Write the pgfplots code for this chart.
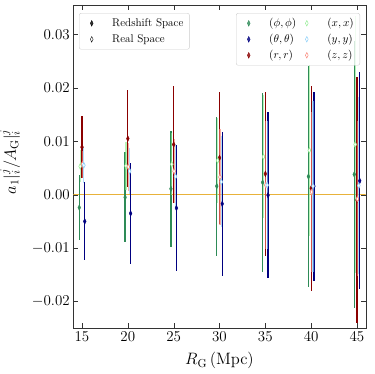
\RequirePackage{fix-cm}
\documentclass[border=0pt]{standalone}
\usepackage{pgfplots}
\usepackage{pgfplotstable}
\pgfplotsset{compat=1.18}

\definecolor{phiC}{HTML}{2E8B57}
\definecolor{thC}{HTML}{000080}
\definecolor{rC}{HTML}{8B0000}
\definecolor{xC}{HTML}{90EE90}
\definecolor{yC}{HTML}{87CEFA}
\definecolor{zC}{HTML}{FA8072}
\definecolor{zeroC}{HTML}{E8B23A}

% redshift space: R value error
\pgfplotstableread{
R v e
15 -0.0024 0.0060
20 -0.0005 0.0084
25 0.0011 0.0108
30 0.0016 0.0130
35 0.0023 0.0167
40 0.0034 0.0207
45 0.0038 0.0250
}\phiRS
\pgfplotstableread{
R v e
15 -0.0050 0.0073
20 -0.0035 0.0094
25 -0.0025 0.0118
30 -0.0017 0.0135
35 -0.0001 0.0155
40 0.0016 0.0177
45 0.0026 0.0203
}\thRS
\pgfplotstableread{
R v e
15 0.0089 0.0058
20 0.0105 0.0090
25 0.0094 0.0110
30 0.0069 0.0124
35 0.0039 0.0153
40 0.0012 0.0192
45 -0.0010 0.0231
}\rRS
% real space
\pgfplotstableread{
R v e
15 0.0053 0.0030
20 0.0054 0.0045
25 0.0057 0.0058
30 0.0064 0.0080
35 0.0071 0.0115
40 0.0083 0.0160
45 0.0094 0.0240
}\xRE
\pgfplotstableread{
R v e
15 0.0055 0.0034
20 0.0044 0.0043
25 0.0034 0.0060
30 0.0024 0.0085
35 0.0018 0.0120
40 0.0016 0.0160
45 0.0017 0.0165
}\yRE
\pgfplotstableread{
R v e
15 0.0057 0.0025
20 0.0052 0.0045
25 0.0044 0.0060
30 0.0033 0.0090
35 0.0018 0.0120
40 0.0005 0.0150
45 -0.0008 0.0145
}\zRE

\newcommand{\legfont}{\fontsize{11.2}{13}\selectfont}

\tikzset{
    mylegend/.style={
        draw=black!20, rounded corners=2pt, fill=white,
        fill opacity=0.8, text opacity=1,
        inner xsep=4pt, inner ysep=2pt,
    },
}
\pgfplotsset{
    rs/.style={only marks, mark=diamond*, mark size=2.8pt,
        mark options={xscale=0.65, solid},
        error bars/y dir=both, error bars/y explicit, error bars/error mark=none,
        error bars/error bar style={line width=1.2pt}},
    re/.style={only marks, mark=diamond*, mark size=2.8pt,
        mark options={xscale=0.65, solid, fill=white, line width=0.6pt},
        error bars/y dir=both, error bars/y explicit, error bars/error mark=none,
        error bars/error bar style={line width=1.2pt, opacity=0.65}},
    legmark/.style={only marks, mark=diamond*, mark size=2.8pt,
        legend image code/.code={%
            \path[draw=none, fill=none] (0cm,-8pt) (0.95cm,8pt);
            \draw[##1] plot coordinates {(0.3cm,0cm)};}},
    common/.style={
        scale only axis, width=292.4pt, height=323.3pt,
        xmin=14.05, xmax=45.95, ymin=-0.025, ymax=0.0355,
    },
}

\begin{document}
\begin{tikzpicture}
\begin{axis}[
    common,
    xtick={15,20,25,30,35,40,45},
    ytick={-0.02,-0.01,0,0.01,0.02,0.03},
    scaled y ticks=false,
    yticklabel style={/pgf/number format/.cd, fixed, fixed zerofill, precision=2},
    tick label style={font=\fontsize{15}{17}\selectfont},
    label style={font=\fontsize{16.5}{20}\selectfont},
    xlabel={$R_{\rm G}\,({\rm Mpc})$},
    ylabel={$a_1|_i^j/A_{\rm G}|_i^j$},
    xlabel style={yshift=-4pt},
    ylabel style={at={(ticklabel cs:0.515)}},
    ylabel shift=5pt,
    major tick length=5pt,
    axis line style={black!80}, tick style={black!80},
    legend columns=2,
    legend cell align=left,
    legend style={mylegend, at={(0.9805,0.975)}, anchor=north east},
]
\addplot[color=zeroC, line width=1.3pt, forget plot] coordinates {(14.05,0) (45.95,0)};

\addplot[rs, color=phiC, forget plot] table[x expr=\thisrow{R}-0.3, y=v, y error=e] {\phiRS};
\addplot[rs, color=rC, forget plot] table[x expr=\thisrow{R}, y=v, y error=e] {\rRS};
\addplot[rs, color=thC, forget plot] table[x expr=\thisrow{R}+0.3, y=v, y error=e] {\thRS};
\addplot[re, color=xC, forget plot] table[x expr=\thisrow{R}-0.2, y=v, y error=e] {\xRE};
\addplot[re, color=zC, forget plot] table[x expr=\thisrow{R}+0.05, y=v, y error=e] {\zRE};
\addplot[re, color=yC, forget plot] table[x expr=\thisrow{R}+0.2, y=v, y error=e] {\yRE};

\addlegendimage{legmark, mark options={xscale=0.65}, color=phiC}
\addlegendentry{\legfont$(\phi,\phi)$\hspace{22pt}}
\addlegendimage{legmark, mark options={xscale=0.65, fill=white}, color=xC}
\addlegendentry{\legfont$(x,x)$}
\addlegendimage{legmark, mark options={xscale=0.65}, color=thC}
\addlegendentry{\legfont$(\theta,\theta)$\hspace{22pt}}
\addlegendimage{legmark, mark options={xscale=0.65, fill=white}, color=yC}
\addlegendentry{\legfont$(y,y)$}
\addlegendimage{legmark, mark options={xscale=0.65}, color=rC}
\addlegendentry{\legfont$(r,r)$\hspace{22pt}}
\addlegendimage{legmark, mark options={xscale=0.65, fill=white}, color=zC}
\addlegendentry{\legfont$(z,z)$}
\end{axis}

\begin{axis}[
    common, hide axis,
    legend cell align=left,
    legend style={mylegend, at={(0.0195,0.975)}, anchor=north west},
]
\addlegendimage{legmark, mark options={xscale=0.65}, color=black}
\addlegendentry{\legfont Redshift Space}
\addlegendimage{legmark, mark options={xscale=0.65, fill=white}, color=black}
\addlegendentry{\legfont Real Space}
\end{axis}

\pgfresetboundingbox
\path[use as bounding box] (-73.3pt,-45.7pt) rectangle (300.7pt,328.3pt);
\end{tikzpicture}
\end{document}
